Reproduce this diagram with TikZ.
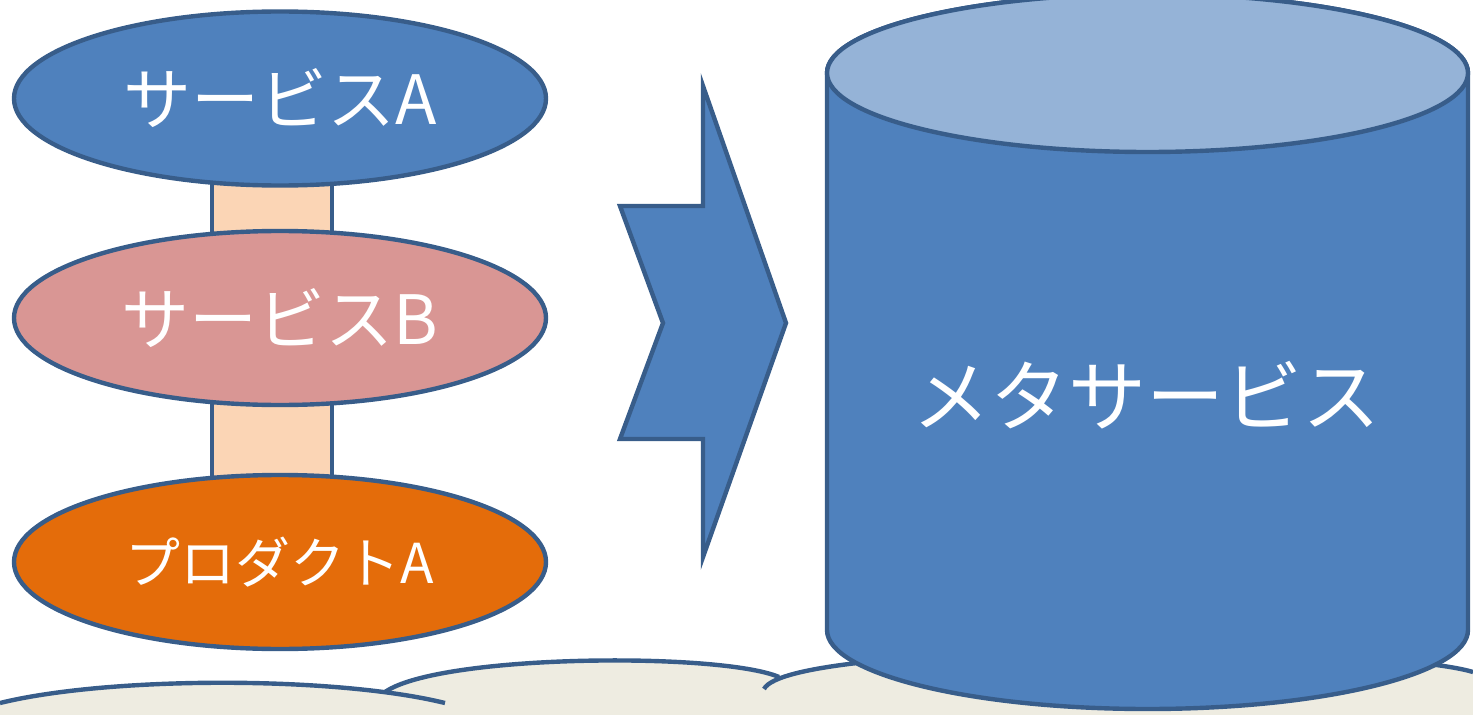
\documentclass[tikz,border=0pt]{standalone}
\usepackage{fontspec}
\setmainfont{Noto Sans CJK JP}
\usetikzlibrary{shapes.geometric,calc}
\pgfdeclarelayer{bg}
\pgfsetlayers{bg,main}
\definecolor{edge}{HTML}{385D8A}
\definecolor{blueA}{HTML}{4F81BD}
\definecolor{pinkB}{HTML}{D99694}
\definecolor{orangeP}{HTML}{E46C0A}
\definecolor{peach}{HTML}{FBD5B5}
\definecolor{lightblue}{HTML}{95B3D7}
\definecolor{cloudcol}{HTML}{EEECE1}
\begin{document}
\begin{tikzpicture}[x=0.5pt,y=0.5pt,
  svc/.style={ellipse, draw=edge, line width=2.2pt, inner sep=0pt,
    minimum width=266pt, minimum height=87pt, text=white,
    font=\fontsize{34}{40}\selectfont},
  link/.style={draw=edge, line width=2.2pt, fill=peach},
  shapeline/.style={draw=edge, line width=2.2pt, line join=miter},
  cloudfill/.style={fill=cloudcol},
  cloudline/.style={draw=edge, line width=2.2pt},
  bigtext/.style={text=white, font=\fontsize{39}{46}\selectfont},
]
\useasboundingbox (0,0) rectangle (1473,714);

% cloud (partly visible)
\fill[cloudfill] (0,-5) -- (0,11) .. controls (110,38) and (335,38) .. (445,11) -- (445,-5) -- cycle;
\fill[cloudfill] (385,-5) -- (385,22) .. controls (440,60) and (720,62) .. (779,37) -- (779,-5) -- cycle;
\fill[cloudfill] (764,-5) -- (764,25) .. controls (790,75) and (1380,70) .. (1473,42) -- (1473,-5) -- cycle;
\draw[cloudline] (0,11) .. controls (110,38) and (335,38) .. (445,11);
\draw[cloudline] (385,22) .. controls (440,60) and (720,62) .. (779,37);
\draw[cloudline] (764,25) .. controls (790,75) and (1380,70) .. (1473,42);

% cylinder
\path[shapeline, fill=blueA] (827,641) -- (827,84)
  arc[start angle=180, end angle=360, x radius=320.5, y radius=79]
  -- (1468,641) arc[start angle=0, end angle=180, x radius=320.5, y radius=79] -- cycle;
\draw[shapeline, fill=lightblue] (1147.5,641) ellipse [x radius=320.5, y radius=79];
\node[bigtext] (meta) at (1146,319) {メタサービス};

% notched arrow
\draw[shapeline, fill=blueA] (703,628) -- (786,391) -- (703,157) -- (703,275)
  -- (620,275) -- (663,391) -- (620,508) -- (703,508) -- cycle;

% services
\node[svc, fill=blueA] (sa) at (280,615.5) {サービスA};
\node[svc, fill=pinkB] (sb) at (280,396) {サービスB};
\node[svc, fill=orangeP, font=\fontsize{27.5}{33}\selectfont] (pa) at (280,152) {プロダクトA};

\begin{pgfonlayer}{bg}
\draw[link] ($(sa.center)+(-68,0)$) rectangle ($(sb.center)+(52,0)$);
\draw[link] ($(sb.center)+(-68,0)$) rectangle ($(pa.center)+(52,0)$);
\end{pgfonlayer}
\end{tikzpicture}
\end{document}
